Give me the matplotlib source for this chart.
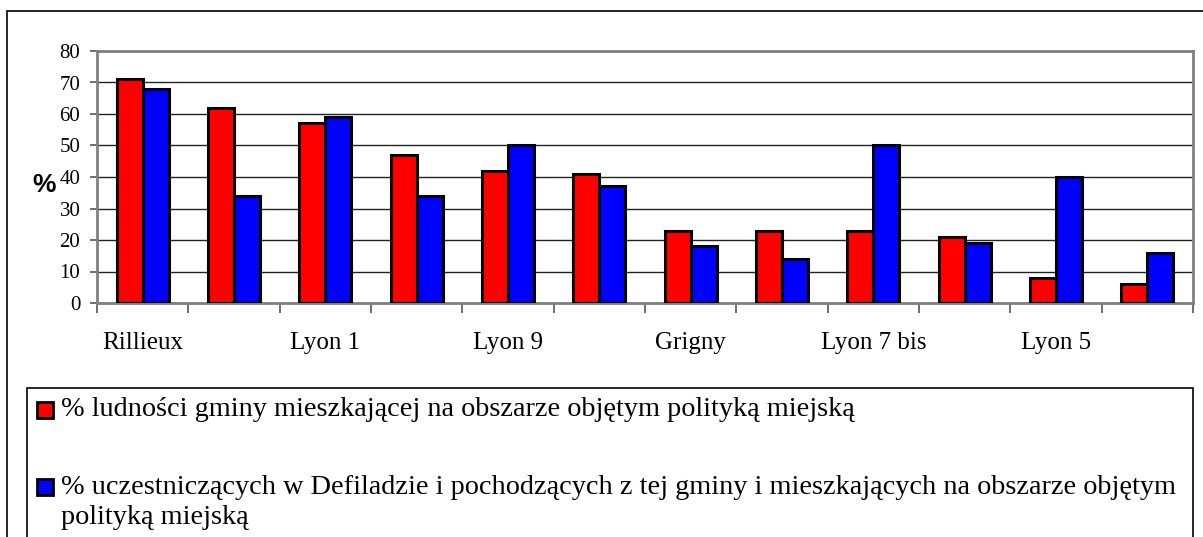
import numpy as np
import matplotlib
matplotlib.use("Agg")
from matplotlib import pyplot as plt
from matplotlib.patches import Rectangle

# data
districts = ["Rillieux", "", "Lyon 1", "", "Lyon 9", "", "Grigny", "",
             "Lyon 7 bis", "", "Lyon 5", ""]
share_policy_area = [71, 62, 57, 47, 42, 41, 23, 23, 23, 21, 8, 6]
share_parade = [68, 34, 59, 34, 50, 37, 18, 14, 50, 19, 40, 16]
series_labels = [
    ["% ludności gminy mieszkającej na obszarze objętym polityką miejską"],
    ["% uczestniczących w Defiladzie i pochodzących z tej gminy i "
     "mieszkających na obszarze objętym", "polityką miejską"],
]

W, H = 1203, 537
SERIF = "Liberation Serif"

fig = plt.figure(figsize=(W / 100, H / 100), dpi=100)

# outer frame (runs off the right and bottom edges)
fig.patches.append(Rectangle((7 / W, -0.1), 1.2, 1 - 11 / H + 0.1,
                             transform=fig.transFigure, fill=False,
                             ec="black", lw=1.2, zorder=0))

ax = fig.add_axes([97 / W, 1 - 303 / H, (1193 - 97) / W, (303 - 51) / H])

x = np.arange(len(districts))
bw = 0.285
ax.bar(x - bw / 2, share_policy_area, bw, color="#ff0000",
       edgecolor="black", linewidth=2.2, zorder=3)
ax.bar(x + bw / 2, share_parade, bw, color="#0000ff",
       edgecolor="black", linewidth=2.2, zorder=3)

ax.set_xlim(-0.5, len(districts) - 0.5)
ax.set_ylim(0, 80)
ax.set_yticks(range(0, 81, 10))
ax.yaxis.grid(True, color="#222222", lw=1)
ax.set_axisbelow(True)

ax.set_xticks(x)
ax.set_xticklabels(districts, fontfamily=SERIF, fontsize=18)
ax.set_xticks(np.arange(-0.5, len(districts)), minor=True)
ax.tick_params(axis="x", which="major", length=0, pad=21)
ax.tick_params(axis="x", which="minor", length=7, width=1.2,
               color="#555555", direction="out")
ax.tick_params(axis="y", length=5, width=1.2, color="#555555", pad=7)
for lab in ax.get_yticklabels():
    lab.set_fontfamily(SERIF)
    lab.set_fontsize(15)

for side in ["left", "right", "top", "bottom"]:
    ax.spines[side].set_color("#808080")
    ax.spines[side].set_linewidth(2)

fig.text(44 / W, 1 - 185 / H, "%", fontfamily="Liberation Sans",
         fontsize=19, fontweight="bold", ha="center", va="center")

# legend box (also runs off the bottom edge)
fig.patches.append(Rectangle((27 / W, -0.1), (1193 - 27) / W,
                             1 - 388 / H + 0.1, transform=fig.transFigure,
                             fill=False, ec="black", lw=1.2, zorder=1))
colors = ["#ff0000", "#0000ff"]
ys = [410, 487]
line_gap = 31
for c, yy, lines in zip(colors, ys, series_labels):
    fig.patches.append(Rectangle((37 / W, 1 - (yy + 8) / H), 16 / W, 16 / H,
                                 transform=fig.transFigure, fc=c,
                                 ec="black", lw=2, zorder=2))
    for k, line in enumerate(lines):
        fig.text(61 / W, 1 - (yy + k * line_gap) / H, line,
                 fontfamily=SERIF, fontsize=20.3, ha="left", va="center")

fig.savefig("out.png", dpi=100)
